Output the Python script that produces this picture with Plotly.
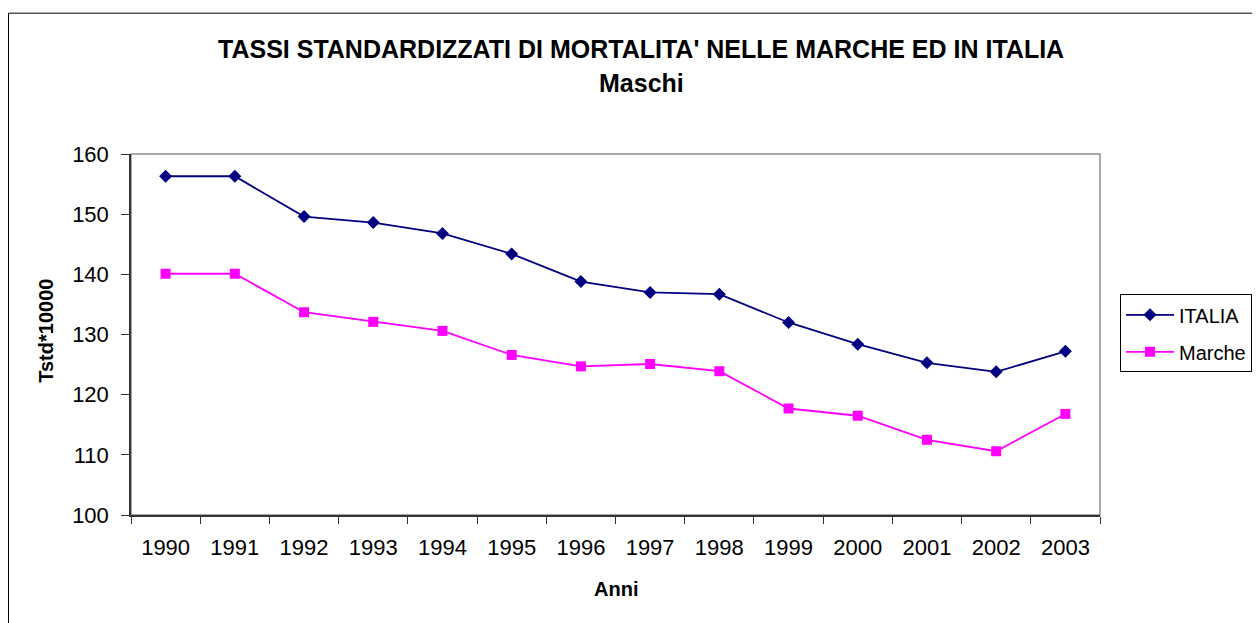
import plotly.graph_objects as go

anni = ["1990", "1991", "1992", "1993", "1994", "1995", "1996", "1997",
        "1998", "1999", "2000", "2001", "2002", "2003"]
italia = [156.3, 156.3, 149.6, 148.6, 146.8, 143.4, 138.8, 137.0,
          136.7, 132.0, 128.4, 125.3, 123.8, 127.2]
marche = [140.1, 140.1, 133.7, 132.1, 130.6, 126.6, 124.7, 125.1,
          123.9, 117.7, 116.5, 112.5, 110.6, 116.8]
y_ticks = [100, 110, 120, 130, 140, 150, 160]

FONT = "Liberation Sans, Arial, sans-serif"

# page body adds an 8px margin, so the figure is 8px smaller than the window
PL, PR, PT, PB = 131, 1100, 153.5, 515  # plot area in window pixels
PW, PH = PR - PL, PB - PT


def px(xw):
    return (xw - PL) / PW


def py(yw):
    return (PB - yw) / PH


fig = go.Figure()
fig.add_trace(go.Scatter(
    x=anni, y=italia, name="ITALIA", mode="lines+markers", legendgroup="a",
    line=dict(color="#000080", width=1.8),
    marker=dict(symbol="diamond", size=10, color="#000080"),
))
fig.add_trace(go.Scatter(
    x=anni, y=marche, name="Marche", mode="lines+markers", legendgroup="b",
    line=dict(color="#FF00FF", width=1.8),
    marker=dict(symbol="square", size=10, color="#FF00FF"),
))

fig.update_layout(
    width=1252, height=615,
    margin=dict(l=PL - 8, r=1252 - (PR - 8), t=PT - 8, b=615 - (PB - 8),
                autoexpand=False),
    paper_bgcolor="white", plot_bgcolor="white",
    font=dict(family=FONT, size=20, color="black"),
    showlegend=True,
    legend=dict(
        x=px(1120), y=py(294), xanchor="left", yanchor="top",
        bordercolor="black", borderwidth=1, bgcolor="white",
        font=dict(family=FONT, size=20, color="black"),
        itemwidth=48, tracegroupgap=8,
    ),
    xaxis=dict(
        type="category", range=[-0.5, 13.5],
        showline=True, linecolor="#333333", linewidth=1.5,
        ticks="outside", tickson="boundaries", ticklen=7, tickcolor="#333333",
        showgrid=False, zeroline=False,
        tickfont=dict(family=FONT, size=22, color="black"),
        ticklabelstandoff=12,
    ),
    yaxis=dict(
        range=[100, 160], tickvals=y_ticks,
        showline=True, linecolor="#333333", linewidth=1.5,
        ticks="outside", ticklen=8, tickcolor="#333333",
        showgrid=False, zeroline=False,
        tickfont=dict(family=FONT, size=22, color="black"),
        ticklabelstandoff=8,
    ),
    shapes=[
        dict(type="rect", xref="paper", yref="paper", x0=0, x1=1, y0=0, y1=1,
             line=dict(color="#8c8c8c", width=1.5), layer="below"),
        dict(type="rect", xref="paper", yref="paper",
             x0=px(8.5), x1=1.3, y0=-0.5, y1=py(12.5),
             line=dict(color="black", width=1), layer="below"),
    ],
    annotations=[
        dict(text="<b>TASSI STANDARDIZZATI DI MORTALITA' NELLE MARCHE ED IN ITALIA</b>",
             xref="paper", yref="paper", x=px(641), y=py(48),
             xanchor="center", yanchor="middle", showarrow=False,
             font=dict(family=FONT, size=25, color="black")),
        dict(text="<b>Maschi</b>",
             xref="paper", yref="paper", x=px(641), y=py(82),
             xanchor="center", yanchor="middle", showarrow=False,
             font=dict(family=FONT, size=25, color="black")),
        dict(text="<b>Tstd*10000</b>", textangle=-90,
             xref="paper", yref="paper", x=px(46.5), y=py(331),
             xanchor="center", yanchor="middle", showarrow=False,
             font=dict(family=FONT, size=20, color="black")),
        dict(text="<b>Anni</b>",
             xref="paper", yref="paper", x=px(616), y=py(589),
             xanchor="center", yanchor="middle", showarrow=False,
             font=dict(family=FONT, size=20, color="black")),
    ],
)

fig.write_html("out.html")
